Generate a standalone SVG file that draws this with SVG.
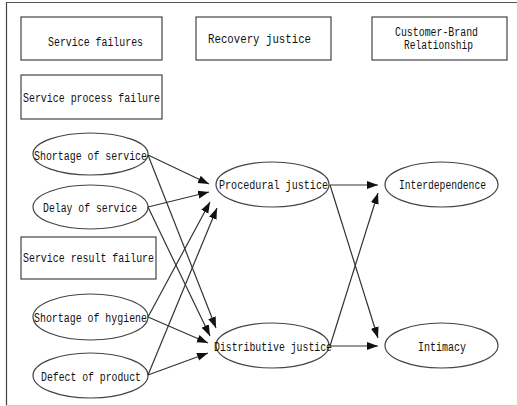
<svg xmlns="http://www.w3.org/2000/svg" width="517" height="406" viewBox="0 0 517 406">
<style>
.box{fill:#fff;stroke:#444;stroke-width:1.2}
.ell{fill:#fff;stroke:#444;stroke-width:1.2}
.t{font-family:"Liberation Mono","DejaVu Sans Mono",monospace;font-size:12px;fill:#111}
.c{fill:none;stroke:#333;stroke-width:1.2;marker-end:url(#ah)}
</style>
<defs>
<marker id="ah" markerUnits="userSpaceOnUse" markerWidth="12" markerHeight="10" viewBox="0 0 12 10" refX="11" refY="5" orient="auto">
<path d="M0,1 L11,5 L0,9 Z" fill="#111"/>
</marker>
</defs>
<rect width="517" height="406" fill="#fff"/>
<g id="frame">
<line x1="6" y1="2.5" x2="517" y2="2.5" stroke="#555" stroke-width="1.2"/>
<line x1="6.5" y1="2" x2="6.5" y2="406" stroke="#444" stroke-width="1.2"/>
<line x1="6" y1="405.5" x2="517" y2="405.5" stroke="#ccc" stroke-width="1"/>
</g>
<g id="service-failures"><rect class="box" x="21" y="17" width="141" height="43"/><text class="t" x="48" y="46" textLength="95" lengthAdjust="spacingAndGlyphs">Service failures</text></g>
<g id="recovery-justice"><rect class="box" x="196" y="17" width="135" height="43"/><text class="t" x="208" y="43" textLength="103" lengthAdjust="spacingAndGlyphs">Recovery justice</text></g>
<g id="customer-brand"><rect class="box" x="372" y="17" width="135" height="43"/><text class="t" x="395" y="36" textLength="83" lengthAdjust="spacingAndGlyphs">Customer-Brand</text><text class="t" x="404" y="49" textLength="69" lengthAdjust="spacingAndGlyphs">Relationship</text></g>
<g id="service-process-failure"><rect class="box" x="21" y="75" width="141" height="44"/><text class="t" x="23" y="102" textLength="137" lengthAdjust="spacingAndGlyphs">Service process failure</text></g>
<g id="service-result-failure"><rect class="box" x="21" y="237" width="135" height="42"/><text class="t" x="23" y="262" textLength="131" lengthAdjust="spacingAndGlyphs">Service result failure</text></g>
<g id="shortage-of-service"><ellipse class="ell" cx="90.5" cy="154" rx="57.5" ry="21"/><text class="t" x="34" y="160" textLength="113" lengthAdjust="spacingAndGlyphs">Shortage of service</text></g>
<g id="delay-of-service"><ellipse class="ell" cx="90.5" cy="207" rx="57.5" ry="22"/><text class="t" x="43" y="212" textLength="94" lengthAdjust="spacingAndGlyphs">Delay of service</text></g>
<g id="shortage-of-hygiene"><ellipse class="ell" cx="90.5" cy="317" rx="57.5" ry="23"/><text class="t" x="34" y="322" textLength="113" lengthAdjust="spacingAndGlyphs">Shortage of hygiene</text></g>
<g id="defect-of-product"><ellipse class="ell" cx="90.5" cy="375.5" rx="57.5" ry="22.5"/><text class="t" x="41" y="381" textLength="100" lengthAdjust="spacingAndGlyphs">Defect of product</text></g>
<g id="procedural-justice"><ellipse class="ell" cx="272.5" cy="184.5" rx="56.5" ry="22.5"/><text class="t" x="219" y="189" textLength="109" lengthAdjust="spacingAndGlyphs">Procedural justice</text></g>
<g id="distributive-justice"><ellipse class="ell" cx="272.5" cy="345.5" rx="56.5" ry="22.5"/><text class="t" x="214" y="351" textLength="118" lengthAdjust="spacingAndGlyphs">Distributive justice</text></g>
<g id="interdependence"><ellipse class="ell" cx="441.5" cy="184.5" rx="56.5" ry="22.5"/><text class="t" x="399" y="189" textLength="87" lengthAdjust="spacingAndGlyphs">Interdependence</text></g>
<g id="intimacy"><ellipse class="ell" cx="441.5" cy="345.5" rx="56.5" ry="22.5"/><text class="t" x="418" y="351" textLength="48" lengthAdjust="spacingAndGlyphs">Intimacy</text></g>
<g id="connectors">
<line class="c" x1="148" y1="155" x2="209" y2="184"/>
<line class="c" x1="148" y1="207" x2="209" y2="192"/>
<line class="c" x1="148" y1="317" x2="210" y2="202"/>
<line class="c" x1="148" y1="375" x2="217" y2="208"/>
<line class="c" x1="148" y1="155" x2="216" y2="328"/>
<line class="c" x1="148" y1="207" x2="210" y2="336"/>
<line class="c" x1="148" y1="317" x2="208" y2="343"/>
<line class="c" x1="148" y1="375" x2="208" y2="353"/>
<line class="c" x1="330" y1="185" x2="378" y2="185"/>
<line class="c" x1="330" y1="185" x2="378" y2="338"/>
<line class="c" x1="330" y1="346" x2="378" y2="346"/>
<line class="c" x1="330" y1="346" x2="378" y2="193"/>
</g>
</svg>
